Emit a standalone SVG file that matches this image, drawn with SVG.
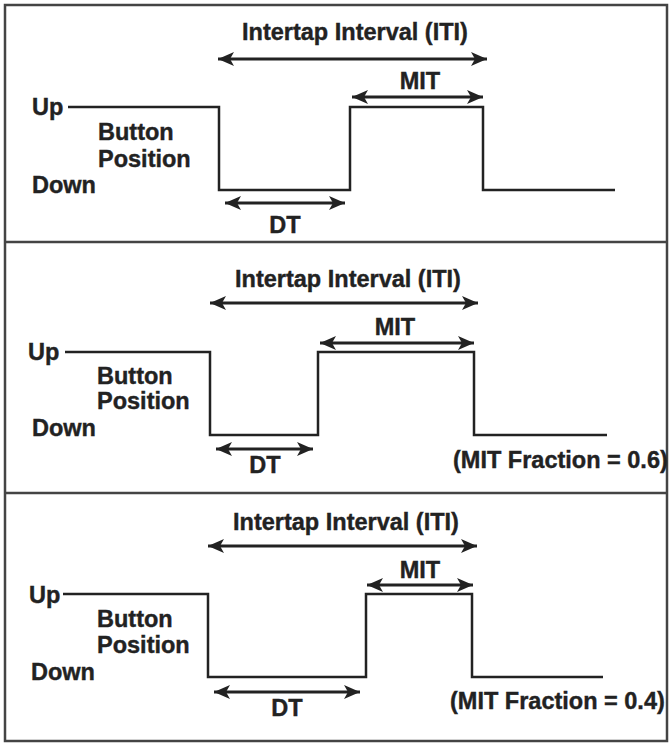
<svg xmlns="http://www.w3.org/2000/svg" width="669" height="744" viewBox="0 0 669 744">
<defs>
<marker id="ah" viewBox="0 0 16 14" refX="16" refY="7" markerWidth="16" markerHeight="14" markerUnits="userSpaceOnUse" orient="auto-start-reverse">
<path d="M0,0 L16,7 L0,14 L4,7 Z" fill="#222"/>
</marker>
</defs>
<style>
text{font-family:"Liberation Sans",Arial,sans-serif;font-weight:bold;font-size:23.5px;fill:#222;stroke:#222;stroke-width:0.4}
.mid{text-anchor:middle}
.sig{fill:none;stroke:#222;stroke-width:2.5;stroke-linejoin:miter}
.arr{fill:none;stroke:#222;stroke-width:3;marker-start:url(#ah);marker-end:url(#ah)}
.frame{fill:none;stroke:#444;stroke-width:2.5}
</style>
<rect width="669" height="744" fill="#fff"/>
<g id="frame">
<rect class="frame" x="5" y="5" width="662" height="736"/>
<line class="frame" x1="5" y1="242" x2="667" y2="242"/>
<line class="frame" x1="5" y1="493" x2="667" y2="493"/>
</g>

<g id="panel1">
<g id="p1-labels">
<text x="32" y="115">Up</text>
<text x="98" y="140">Button</text>
<text x="98" y="167">Position</text>
<text x="32" y="193">Down</text>
<text class="mid" x="355" y="40">Intertap Interval (ITI)</text>
<text class="mid" x="420" y="89">MIT</text>
<text class="mid" x="285" y="233">DT</text>
</g>
<path id="p1-signal" class="sig" d="M68,107 H219 V190 H350 V107 H483 V190 H615"/>
</g>

<g id="panel2">
<g id="p2-labels">
<text x="28" y="360">Up</text>
<text x="97" y="384">Button</text>
<text x="97" y="409">Position</text>
<text x="32" y="436">Down</text>
<text class="mid" x="348" y="287">Intertap Interval (ITI)</text>
<text class="mid" x="395" y="335">MIT</text>
<text class="mid" x="265" y="473">DT</text>
<text x="453" y="468">(MIT Fraction = 0.6)</text>
</g>
<path id="p2-signal" class="sig" d="M65,352 H210 V435 H318 V352 H474 V435 H607"/>
</g>

<g id="panel3">
<g id="p3-labels">
<text x="29" y="603">Up</text>
<text x="97" y="627">Button</text>
<text x="97" y="653">Position</text>
<text x="31" y="680">Down</text>
<text class="mid" x="346" y="530">Intertap Interval (ITI)</text>
<text class="mid" x="420" y="578">MIT</text>
<text class="mid" x="287" y="716">DT</text>
<text x="450" y="709">(MIT Fraction = 0.4)</text>
</g>
<path id="p3-signal" class="sig" d="M63,594 H208 V677 H366 V594 H472 V677 H603"/>
</g>

<g id="connectors">
<path class="arr" d="M218,59 H487"/>
<path class="arr" d="M352,97 H483"/>
<path class="arr" d="M225,203 H345"/>
<path class="arr" d="M210,303 H478"/>
<path class="arr" d="M320,343 H474"/>
<path class="arr" d="M216,449 H313"/>
<path class="arr" d="M208,546 H477"/>
<path class="arr" d="M367,585 H473"/>
<path class="arr" d="M214,692 H360"/>
</g>
</svg>
